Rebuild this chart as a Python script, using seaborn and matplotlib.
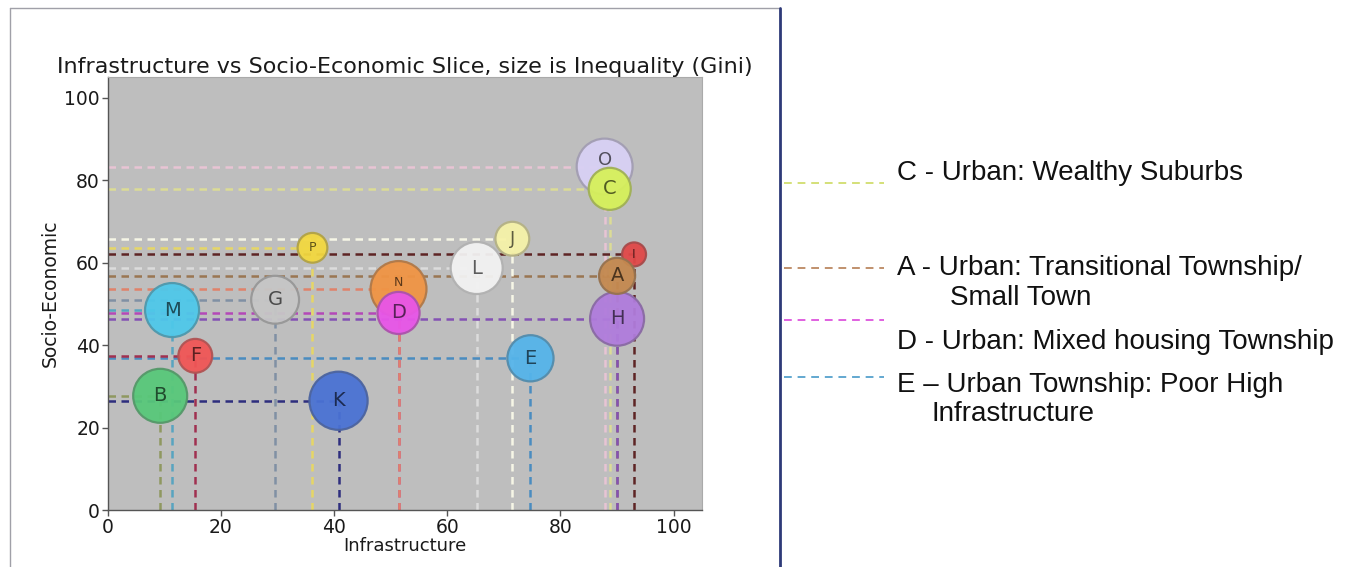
import matplotlib
matplotlib.use("Agg")
import matplotlib.pyplot as plt
import matplotlib.colors as mcolors
from matplotlib.lines import Line2D
import seaborn as sns
import pandas as pd
import numpy as np

# ---------------- data ----------------
labels = ["A", "B", "C", "D", "E", "F", "G", "H", "I", "J", "K", "L", "M", "N", "O", "P"]
infrastructure = [90.0, 9.3, 88.7, 51.4, 74.7, 15.5, 29.6, 90.0, 93.0, 71.5, 40.8, 65.2, 11.4, 51.4, 87.8, 36.2]
socio_economic = [56.8, 27.7, 77.9, 47.8, 36.8, 37.4, 51.0, 46.4, 62.0, 65.8, 26.5, 58.7, 48.5, 53.6, 83.3, 63.6]
gini = [0.25, 0.56, 0.34, 0.34, 0.41, 0.22, 0.44, 0.56, 0.11, 0.22, 0.65, 0.52, 0.56, 0.60, 0.60, 0.17]

x_ticks = [0, 20, 40, 60, 80, 100]
y_ticks = [0, 20, 40, 60, 80, 100]

title = "Infrastructure vs Socio-Economic Slice, size is Inequality (Gini)"
x_label = "Infrastructure"
y_label = "Socio-Economic"

notes = [
    ("C", "C - Urban: Wealthy Suburbs", None),
    ("A", "A - Urban: Transitional Township/", "Small Town"),
    ("D", "D - Urban: Mixed housing Township", None),
    ("E", "E \u2013 Urban Township: Poor High", "Infrastructure"),
]

# ---------------- styles ----------------
face = {
    "A": "#c4894f", "B": "#58c87a", "C": "#d6f05a", "D": "#e855e8",
    "E": "#55b4ea", "F": "#f05656", "G": "#c6c6c6", "H": "#b07cdc",
    "I": "#e04848", "J": "#f6f2a8", "K": "#4a72d4", "L": "#f2f2f2",
    "M": "#4ec8ea", "N": "#f09444", "O": "#d8d0f4", "P": "#f2d840",
}
line_col = {
    "A": "#9a7652", "B": "#8f9860", "C": "#dcdc96", "D": "#b448b8",
    "E": "#4a8cc0", "F": "#a03050", "G": "#8090a4", "H": "#8452b4",
    "I": "#5e2424", "J": "#f6f6e6", "K": "#2e2e7e", "L": "#dcdcdc",
    "M": "#58a4c0", "N": "#e0826a", "O": "#e8c4d4", "P": "#e6d666",
}
letter_size = {k: 14 for k in labels}
letter_size.update({"I": 9, "N": 9, "P": 9, "O": 13, "J": 13})
letter_dy = {k: 0.0 for k in labels}
letter_dy.update({"N": 1.5, "O": 1.5})


def mix(c, other, t):
    a = np.array(mcolors.to_rgb(c))
    b = np.array(mcolors.to_rgb(other))
    return tuple(a * (1 - t) + b * t)


df = pd.DataFrame({"label": labels, "infra": infrastructure,
                   "socio": socio_economic, "gini": gini})
plot_df = df.iloc[::-1].reset_index(drop=True)

sns.set_theme(style="white")
plt.rcParams["font.family"] = ["DejaVu Sans"]
plt.rcParams["text.color"] = "#1a1a1a"
plt.rcParams["axes.labelcolor"] = "#1a1a1a"
plt.rcParams["xtick.color"] = "#1a1a1a"
plt.rcParams["ytick.color"] = "#1a1a1a"

fig = plt.figure(figsize=(13.56, 5.67), dpi=100)
ax = fig.add_axes([0.0793, 0.1005, 0.4384, 0.7635])
ax.set_facecolor("#bebebe")

# guide lines
for _, r in df.iterrows():
    c = line_col[r["label"]]
    ax.plot([0, r["infra"]], [r["socio"], r["socio"]], ls=(0, (3, 2.2)),
            color=c, lw=1.8, zorder=1)
    ax.plot([r["infra"], r["infra"]], [0, r["socio"]], ls=(0, (3, 2.2)),
            color=c, lw=1.8, zorder=1)

sns.scatterplot(data=plot_df, x="infra", y="socio", hue="label", palette=face,
                size="gini", sizes=(0, 2700), size_norm=(0, 1), legend=False,
                linewidth=1.6, alpha=0.95, ax=ax, zorder=2)
coll = ax.collections[-1]
coll.set_edgecolors([mix(face[l], "#505050", 0.4) for l in plot_df["label"]])

for _, r in df.iterrows():
    l = r["label"]
    ax.text(r["infra"], r["socio"] + letter_dy[l], l, ha="center", va="center",
            fontsize=letter_size[l], color=mix(face[l], "#000000", 0.62), zorder=3)

ax.set_xlim(0, 105)
ax.set_ylim(0, 105)
ax.set_xticks(x_ticks)
ax.set_yticks(y_ticks)
ax.tick_params(axis="both", labelsize=13.5, length=4, width=1, color="#555555",
               labelcolor="#1a1a1a", bottom=True, left=True, pad=1.5)
for s in ["left", "bottom"]:
    ax.spines[s].set_color("#555555")
    ax.spines[s].set_linewidth(1.0)
for s in ["top", "right"]:
    ax.spines[s].set_color("#aaaaaa")
    ax.spines[s].set_linewidth(0.8)
ax.set_xlabel(x_label, fontsize=13, labelpad=0)
ax.set_ylabel(y_label, fontsize=13.5, labelpad=3)
ax.set_title(title, fontsize=16, pad=3)

# outer frame
fig.add_artist(Line2D([10 / 1356, 10 / 1356], [0, 1 - 8 / 567], transform=fig.transFigure,
                      color="#a0a0a8", lw=1))
fig.add_artist(Line2D([10 / 1356, 780 / 1356], [1 - 8 / 567, 1 - 8 / 567],
                      transform=fig.transFigure, color="#a0a0a8", lw=1))
fig.add_artist(Line2D([780 / 1356, 780 / 1356], [0, 1 - 8 / 567], transform=fig.transFigure,
                      color="#2e3a78", lw=2))

# right annotations
note_line_y = {"C": 183, "A": 268, "D": 320, "E": 377}
note_text_y = {"C": 173, "A": 268, "D": 342, "E": 385}
note_text2 = {"A": (950, 298), "E": (932, 414)}
note_col = {"C": "#d4e078", "A": "#c0906c", "D": "#e060e0", "E": "#62a8d0"}
for key, txt, txt2 in notes:
    yl = 1 - note_line_y[key] / 567
    fig.add_artist(Line2D([784 / 1356, 884 / 1356], [yl, yl], transform=fig.transFigure,
                          color=note_col[key], lw=1.4, ls=(0, (4, 3))))
    fig.text(897 / 1356, 1 - note_text_y[key] / 567, txt, fontsize=20,
             family=["Liberation Sans"], va="center", ha="left", color="#111111")
    if txt2:
        px, py = note_text2[key]
        fig.text(px / 1356, 1 - py / 567, txt2, fontsize=20,
                 family=["Liberation Sans"], va="center", ha="left", color="#111111")

fig.savefig("out.png", dpi=100, facecolor="white")
